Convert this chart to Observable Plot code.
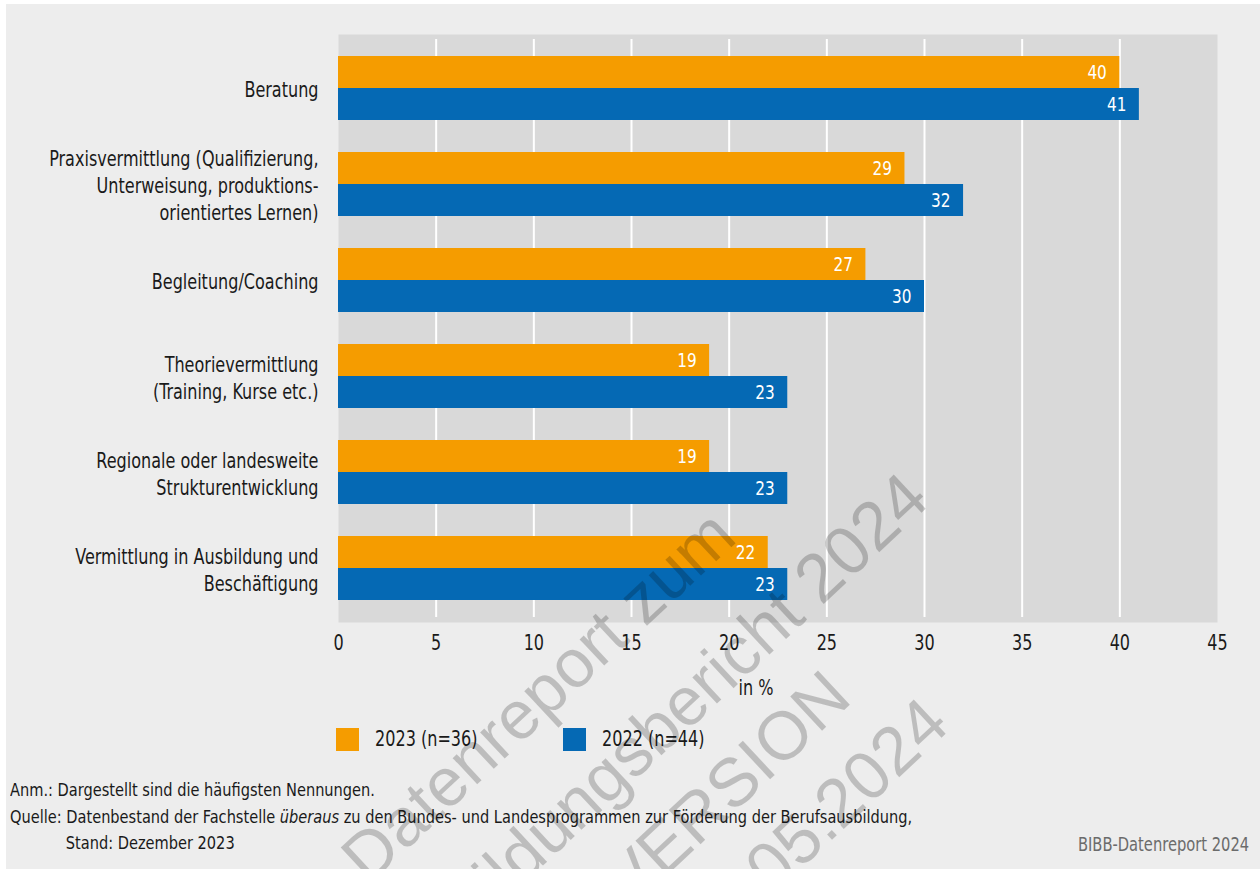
<!DOCTYPE html>
<html>
<head>
<meta charset="utf-8">
<script src="https://cdn.jsdelivr.net/npm/d3@7"></script>
<script src="https://cdn.jsdelivr.net/npm/@observablehq/plot@0.6"></script>
<style>
  body { margin: 0; background: #ffffff; }
  #panel {
    position: absolute; left: 6px; top: 4px; width: 1254px; height: 865px;
    background: #ededed; overflow: hidden;
    font-family: "DejaVu Sans Condensed", "Liberation Sans", sans-serif;
    color: #1a1a1a;
  }
  #chart { position: absolute; left: 0; top: 0; }
  #legend {
    position: absolute; left: 330px; top: 724px; display: flex;
    font-size: 21px; line-height: 23px;
  }
  .item { display: flex; align-items: center; width: 227px; }
  .sw { width: 23px; height: 23px; margin-right: 16px; flex: none; }
  .lbl { display: inline-block; transform: scaleX(0.85); transform-origin: left center; white-space: nowrap; }
  #notes {
    position: absolute; left: 4px; top: 773px; font-size: 18px; line-height: 26.5px;
    transform: scaleX(0.9); transform-origin: left top; white-space: nowrap;
  }
  #notes .indent { padding-left: 62px; }
  #brand {
    position: absolute; right: 11px; top: 827px; font-size: 19px; line-height: 26.5px; color: #6b6b6b;
    transform: scaleX(0.86); transform-origin: right top; white-space: nowrap;
  }
  #wm { position: absolute; left: 0; top: 0; pointer-events: none; }
</style>
</head>
<body>
<div id="panel">
  <div id="chart"></div>
  <div id="legend"></div>
  <div id="notes"></div>
  <div id="brand"></div>
  <svg id="wm" width="1254" height="865"></svg>
</div>
<script>
// ---- data ----
const categories = [
  "Beratung",
  "Praxisvermittlung (Qualifizierung,\nUnterweisung, produktions-\norientiertes Lernen)",
  "Begleitung/Coaching",
  "Theorievermittlung\n(Training, Kurse etc.)",
  "Regionale oder landesweite\nStrukturentwicklung",
  "Vermittlung in Ausbildung und\nBeschäftigung"
];
const values2023 = [40, 29, 27, 19, 19, 22];
const values2022 = [41, 32, 30, 23, 23, 23];
const seriesNames = ["2023 (n=36)", "2022 (n=44)"];
const seriesColors = ["#f59c00", "#0569b4"];
const xTicks = [0, 5, 10, 15, 20, 25, 30, 35, 40, 45];
const xLabel = "in %";
const noteLines = [
  "Anm.: Dargestellt sind die häufigsten Nennungen.",
  "Quelle: Datenbestand der Fachstelle <i>überaus</i> zu den Bundes- und Landesprogrammen zur Förderung der Berufsausbildung,",
  "Stand: Dezember 2023"
];
const brandText = "BIBB-Datenreport 2024";
const watermarkLines = ["Datenreport zum", "Berufsbildungsbericht 2024", "VORVERSION", "Stand: 15.05.2024"];

const rows2023 = categories.map((c, i) => ({cat: c, value: values2023[i]}));
const rows2022 = categories.map((c, i) => ({cat: c, value: values2022[i]}));

const font = '"DejaVu Sans Condensed", "Liberation Sans", sans-serif';

const chart = Plot.plot({
  width: 1254,
  height: 705,
  marginLeft: 332,
  marginRight: 43,
  marginTop: 30,
  marginBottom: 87,
  style: {background: "transparent", fontFamily: font, fontSize: "21px", color: "#1a1a1a", overflow: "visible"},
  x: {domain: [0, 45], ticks: xTicks},
  y: {domain: categories, paddingInner: 0.335, paddingOuter: 0.22},
  marks: [
    Plot.frame({fill: "#d9d9d9", stroke: null}),
    Plot.ruleX(xTicks.filter(d => d > 0 && d < 45), {stroke: "#ffffff", strokeWidth: 2, insetTop: 5, insetBottom: 5}),
    Plot.barX(rows2023, {x: "value", y: "cat", fill: seriesColors[0], insetBottom: 32}),
    Plot.barX(rows2022, {x: "value", y: "cat", fill: seriesColors[1], insetTop: 32}),
    Plot.text(rows2023, {x: "value", y: "cat", text: d => String(d.value), textAnchor: "end", dx: -13, dy: -16, fill: "#ffffff", fontSize: 20}),
    Plot.text(rows2022, {x: "value", y: "cat", text: d => String(d.value), textAnchor: "end", dx: -13, dy: 16, fill: "#ffffff", fontSize: 20}),
    Plot.axisY({tickSize: 0, tickPadding: 20, fontSize: 21, lineHeight: 1.29, label: null}),
    Plot.axisX({ticks: xTicks, tickSize: 0, tickPadding: 13, fontSize: 21, label: null}),
    Plot.text([xLabel], {frameAnchor: "bottom", lineAnchor: "top", dy: 58, dx: -22, fontSize: 21, fill: "#1a1a1a"})
  ]
});
document.getElementById("chart").appendChild(chart);

// condensed look: squeeze every chart text horizontally around its own anchor
d3.select(chart).selectAll("text").each(function() {
  const t = this.getAttribute("transform");
  if (t) this.setAttribute("transform", t + " scale(0.85,1)");
});

// legend
const legend = document.getElementById("legend");
seriesNames.forEach((n, i) => {
  const it = document.createElement("div");
  it.className = "item";
  it.innerHTML = `<span class="sw" style="background:${seriesColors[i]}"></span><span class="lbl">${n}</span>`;
  legend.appendChild(it);
});

// notes
document.getElementById("notes").innerHTML =
  `<div>${noteLines[0]}</div><div>${noteLines[1]}</div><div class="indent">${noteLines[2]}</div>`;
document.getElementById("brand").textContent = brandText;

// watermark (centred block, rotated)
const wm = d3.select("#wm");
const wmAnchors = [[733, 536], [926, 499], [848, 697], [946, 724]];
watermarkLines.forEach((t, i) => {
  wm.append("text")
    .attr("transform", `translate(${wmAnchors[i][0]},${wmAnchors[i][1]}) rotate(-43)`)
    .attr("text-anchor", "end")
    .attr("font-family", '"Liberation Sans", Arial, sans-serif')
    .attr("font-size", 68)
    .attr("fill", "rgba(0,0,0,0.2)")
    .text(t);
});
</script>
</body>
</html>
